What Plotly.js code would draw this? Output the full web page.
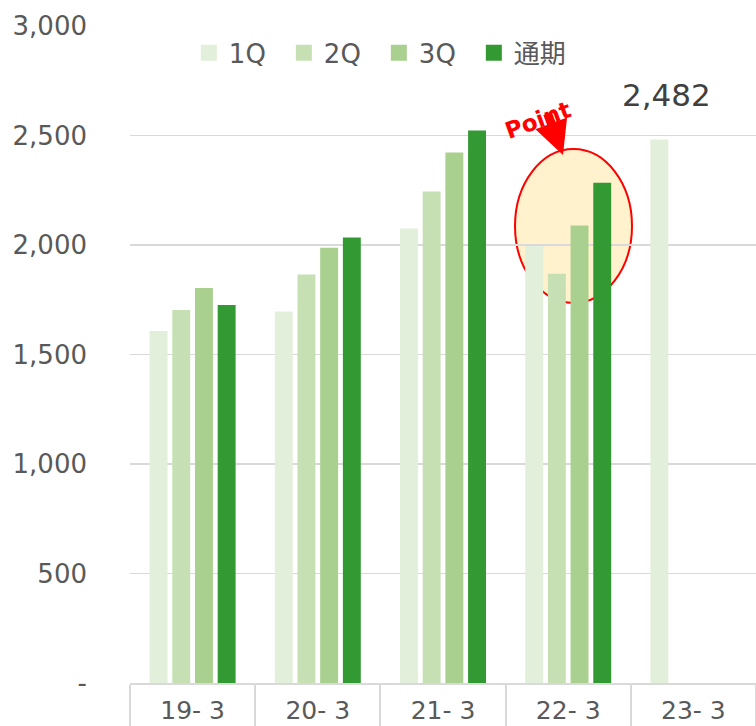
<!DOCTYPE html>
<html>
<head>
<meta charset="utf-8">
<script src="https://cdn.plot.ly/plotly-3.0.1.min.js"></script>
<style>html,body{margin:0;padding:0;background:#fff;}#chart{width:756px;height:726px;}</style>
</head>
<body>
<div id="chart"></div>
<script>
// ---- data ----
const categories = ['19- 3', '20- 3', '21- 3', '22- 3', '23- 3'];
const seriesNames = ['1Q', '2Q', '3Q', '通期'];
const q1 = [1607, 1696, 2075, 1995, 2482];
const q2 = [1703, 1865, 2244, 1869, null];
const q3 = [1804, 1988, 2422, 2089, null];
const fy = [1726, 2034, 2523, 2284, null];
const yTickVals = [0, 500, 1000, 1500, 2000, 2500, 3000];
const yTickText = ['-', '500', '1,000', '1,500', '2,000', '2,500', '3,000'];
const highlightLabel = 'Point';

const colors = ['#E2EFDA', '#C6E0B4', '#A9D08E', '#339933'];
const seriesVals = [q1, q2, q3, fy];
const FONT = '"DejaVu Sans", "Noto Sans CJK JP", sans-serif';

const traces = [];
seriesVals.forEach((vals, i) => {
  traces.push({
    type: 'bar', x: categories, y: vals, name: seriesNames[i],
    marker: {color: colors[i]}, showlegend: false, hoverinfo: 'skip'
  });
});
// legend entries (larger square symbols)
seriesVals.forEach((vals, i) => {
  traces.push({
    type: 'scatter', mode: 'markers', x: [null], y: [null], name: seriesNames[i],
    marker: {color: colors[i], symbol: 'square', size: 20}, showlegend: true
  });
});

const lastVal = q1[q1.length - 1];

const layout = {
  width: 756, height: 726,
  margin: {l: 130, r: 0, t: 26, b: 43},
  paper_bgcolor: '#ffffff', plot_bgcolor: '#ffffff',
  font: {family: FONT, size: 25, color: '#595959'},
  barmode: 'group', bargap: 0.275, bargroupgap: 0.21,
  showlegend: true,
  legend: {
    orientation: 'h', x: 0.094, xanchor: 'left', y: 0.959, yanchor: 'middle',
    font: {family: FONT, size: 26, color: '#595959'},
    entrywidth: 50, entrywidthmode: 'pixels', bgcolor: 'rgba(0,0,0,0)',
    traceorder: 'normal'
  },
  xaxis: {
    type: 'category', categoryorder: 'array', categoryarray: categories,
    range: [-0.5, 4.5],
    showline: true, linecolor: '#D9D9D9', linewidth: 2,
    ticks: 'outside', tickson: 'boundaries', ticklen: 45, tickcolor: '#D9D9D9', tickwidth: 2,
    ticklabelstandoff: 4,
    tickfont: {family: FONT, size: 25, color: '#595959'},
    showgrid: false, zeroline: false, fixedrange: true
  },
  yaxis: {
    range: [0, 3000], tickvals: yTickVals, ticktext: yTickText,
    showgrid: true, gridcolor: '#D9D9D9', gridwidth: 1.5,
    zeroline: false, showline: false, ticks: '',
    ticklabelstandoff: 42,
    tickfont: {family: FONT, size: 26, color: '#595959'},
    fixedrange: true
  },
  shapes: [{
    type: 'circle', xref: 'paper', yref: 'paper', layer: 'below',
    x0: (515 - 130) / 626, x1: (632 - 130) / 626,
    y0: (683 - 303) / 657, y1: (683 - 149) / 657,
    fillcolor: '#FFF2CC', line: {color: '#FF0000', width: 2}
  }],
  annotations: [
    {
      x: categories[4], y: lastVal, xref: 'x', yref: 'y',
      text: lastVal.toLocaleString('en-US'), showarrow: false,
      xshift: -27, yshift: 44,
      font: {family: FONT, size: 31, color: '#404040'}
    },
    {
      xref: 'paper', yref: 'paper', x: (563 - 130) / 626, y: (683 - 155) / 657,
      ax: -16, ay: -43, text: '', showarrow: true,
      arrowhead: 2, arrowwidth: 9, arrowsize: 0.75, arrowcolor: '#FF0000'
    },
    {
      xref: 'paper', yref: 'paper', x: (538 - 130) / 626, y: (683 - 94) / 657,
      text: '<b>' + highlightLabel + '</b>', showarrow: false, textangle: -20,
      font: {family: FONT, size: 23, color: '#FF0000'}
    }
  ]
};

Plotly.newPlot('chart', traces, layout, {staticPlot: true, displayModeBar: false});
</script>
</body>
</html>
